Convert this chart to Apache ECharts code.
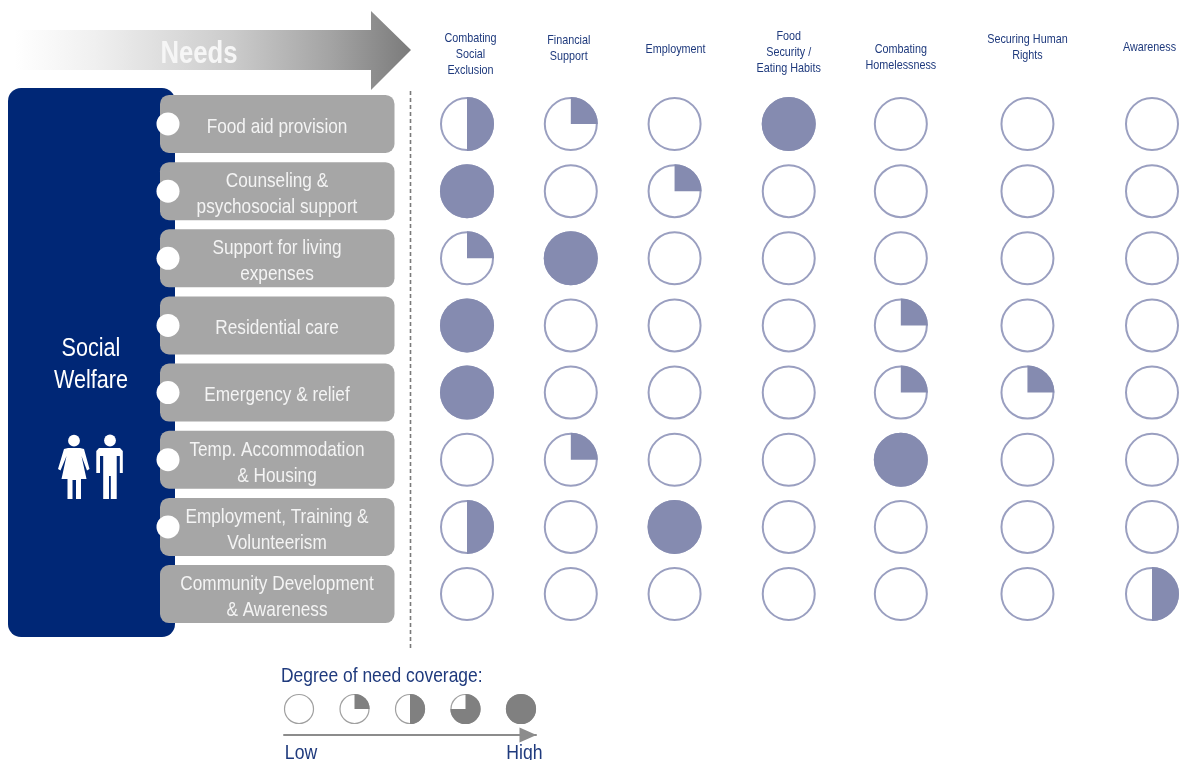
<!DOCTYPE html>
<html><head><meta charset="utf-8">
<style>html,body{margin:0;padding:0;background:#fff}#c{width:1181px;height:760px}</style>
<script src="https://cdn.jsdelivr.net/npm/echarts@6/dist/echarts.min.js"></script>
</head><body><div id="c"></div>
<script>
const services = ['Food aid provision','Counseling &\npsychosocial support','Support for living\nexpenses','Residential care','Emergency & relief','Temp. Accommodation\n& Housing','Employment, Training &\nVolunteerism','Community Development\n& Awareness'];
const needs = ['Combating\nSocial\nExclusion','Financial\nSupport','Employment','Food\nSecurity /\nEating Habits','Combating\nHomelessness','Securing Human\nRights','Awareness'];
const needSlots = [0,1,2,3.1,4.18,5.4,6.6];
const headerMiddles = [54,48,49,52,57,47,47];
const headerNudges = [3.5,-2,1,0,0,0,-2.5];
const foodAid =      [0.5,0.25,0,1,0,0,0];
const counseling =   [1,0,0.25,0,0,0,0];
const livingSupport =[0.25,1,0,0,0,0,0];
const residential =  [1,0,0,0,0.25,0,0];
const emergency =    [1,0,0,0,0.25,0.25,0];
const accommodation =[0,0.25,0,0,1,0,0];
const employment =   [0.5,0,1,0,0,0,0];
const community =    [0,0,0,0,0,0,0.5];
const coverage = [foodAid,counseling,livingSupport,residential,emergency,accommodation,employment,community];
const legendLevels = [0,0.25,0.5,0.75,1];
const legendEnds = ['Low','High'];

const FONT = '"Liberation Sans",Arial,sans-serif';
const NAVY = '#002776', TITLE = '#1f3a7d';
const cells = [];
coverage.forEach((row,r)=>row.forEach((v,c)=>cells.push([needSlots[c],services[r],v])));

function harvey(radius,line,fill,lineWidth){
  return function(params,api){
    const p = api.coord([api.value(0),api.value(1)]);
    const v = api.value(2);
    const kids = [{type:'circle',shape:{cx:p[0],cy:p[1],r:radius},style:{fill:'#fff',stroke:line,lineWidth}}];
    if(v>=1) kids.push({type:'circle',shape:{cx:p[0],cy:p[1],r:radius+lineWidth/2},style:{fill}});
    else if(v>0) kids.push({type:'sector',shape:{cx:p[0],cy:p[1],r0:0,r:radius+lineWidth/2,startAngle:-Math.PI/2,endAngle:-Math.PI/2+2*Math.PI*v,clockwise:true},style:{fill}});
    return {type:'group',children:kids};
  };
}
function rowBox(params,api){
  const y = api.coord([0,services[params.dataIndex]])[1];
  const kids = [
    {type:'rect',shape:{x:160,y:y-29,width:234.5,height:58,r:9},style:{fill:'#a6a6a6'}},
    {type:'text',x:277,y:y+3,scaleX:0.82,style:{text:services[params.dataIndex],font:'21px '+FONT,lineHeight:26,fill:'#f4f4f4',align:'center',verticalAlign:'middle'}}
  ];
  if(params.dataIndex<services.length-1) kids.push({type:'circle',shape:{cx:168,cy:y,r:11.5},style:{fill:'#fff'}});
  return {type:'group',children:kids};
}
const chart = echarts.init(document.getElementById('c'),null,{renderer:'canvas'});
chart.setOption({
  animation:false,
  backgroundColor:'#fff',
  grid:[
    {left:467,right:29,top:90.4,height:537.2,outerBoundsMode:'none'},
    {left:284,width:252,top:683,height:52,outerBoundsMode:'none'}
  ],
  xAxis:[
    {type:'value',gridIndex:0,min:0,max:6.6,show:false},
    {type:'value',gridIndex:1,min:-0.0676,max:1.0676,splitLine:{show:false},
     axisLine:{show:true,symbol:['none','triangle'],symbolSize:[15,17],symbolOffset:[0,-8],lineStyle:{color:'#8c8c8c',width:2}},
     axisTick:{show:false},axisLabel:{show:false}}
  ],
  yAxis:[
    {type:'category',gridIndex:0,inverse:true,data:services,show:false},
    {type:'category',gridIndex:1,data:['scale'],show:false}
  ],
  series:[
    {type:'custom',xAxisIndex:0,yAxisIndex:0,clip:false,data:services.map(s=>[0,s]),encode:{y:1},renderItem:rowBox},
    {type:'custom',xAxisIndex:0,yAxisIndex:0,clip:false,data:cells,encode:{x:0,y:1},
     renderItem:harvey(26,'#9a9fc0','#858bb0',2)},
    {type:'custom',xAxisIndex:1,yAxisIndex:1,clip:false,data:legendLevels.map(v=>[v,'scale',v]),encode:{x:0,y:1},
     renderItem:harvey(14.5,'#a0a0a0','#808080',1.2)}
  ]
});
const col = i => chart.convertToPixel({xAxisIndex:0},needSlots[i]);
const legendX = v => chart.convertToPixel({xAxisIndex:1},v);
const white='#fff';
function squeezed(x,y,text,font,fill,sx,align){
  return {type:'text',z:3,x,y,scaleX:sx,style:{text,font:font+' '+FONT,fill,align:align||'center',verticalAlign:'middle'}};
}
const g = [
  {type:'rect',z:-5,shape:{x:8,y:88,width:167,height:549,r:13},style:{fill:NAVY}},
  {type:'polygon',z:1,shape:{points:[[15,30],[371,30],[371,11],[411,50],[371,90],[371,70],[15,70]]},
   style:{fill:new echarts.graphic.LinearGradient(0,0,1,0,[{offset:0,color:'#ffffff'},{offset:0.2,color:'#f0f0f0'},{offset:0.55,color:'#cbcbcb'},{offset:0.8,color:'#a3a3a3'},{offset:1,color:'#7b7b7b'}])}},
  squeezed(199,54,'Needs','bold 31px','#f6f6f6',0.83),
  {type:'line',z:1,shape:{x1:410.5,y1:91,x2:410.5,y2:650},style:{stroke:'#7a7a7a',lineWidth:1.6,lineDash:[4,3]}},
  squeezed(91,349,'Social','26px',white,0.83),
  squeezed(91,381,'Welfare','26px',white,0.83),
  squeezed(281,676,'Degree of need coverage:','21px',TITLE,0.83,'left'),
  squeezed(legendX(0)+2,753,legendEnds[0],'21px',TITLE,0.84),
  squeezed(legendX(1)+3.5,753,legendEnds[1],'21px',TITLE,0.84),
  // woman
  {type:'circle',z:3,shape:{cx:74,cy:440.7,r:5.9},style:{fill:white}},
  {type:'polygon',z:3,shape:{points:[[68,448],[80,448],[84,449],[89.5,469],[87,470.5],[81.5,456],[86.5,479],[81,479],[81,499],[76,499],[76,480],[72.5,480],[72.5,499],[67.5,499],[67.5,479],[61.5,479],[66.5,456],[60.5,470.5],[58,469],[64,449]]},style:{fill:white}},
  // man
  {type:'circle',z:3,shape:{cx:110,cy:440.5,r:5.9},style:{fill:white}},
  {type:'polygon',z:3,shape:{points:[[99,448],[120,448],[122.8,451],[122.8,473],[119.8,473],[119.8,456],[116.7,456],[116.7,499],[110.8,499],[110.8,476],[109,476],[109,499],[103.2,499],[103.2,456],[100,456],[100,473],[96.3,473],[96.3,451]]},style:{fill:white}}
];
needs.forEach((n,i)=>g.push({type:'text',z:3,x:col(i)+headerNudges[i],y:headerMiddles[i],scaleX:0.8,style:{text:n,font:'13.5px '+FONT,lineHeight:16,fill:TITLE,align:'center',verticalAlign:'middle'}}));
chart.setOption({graphic:{elements:g}});
</script></body></html>
